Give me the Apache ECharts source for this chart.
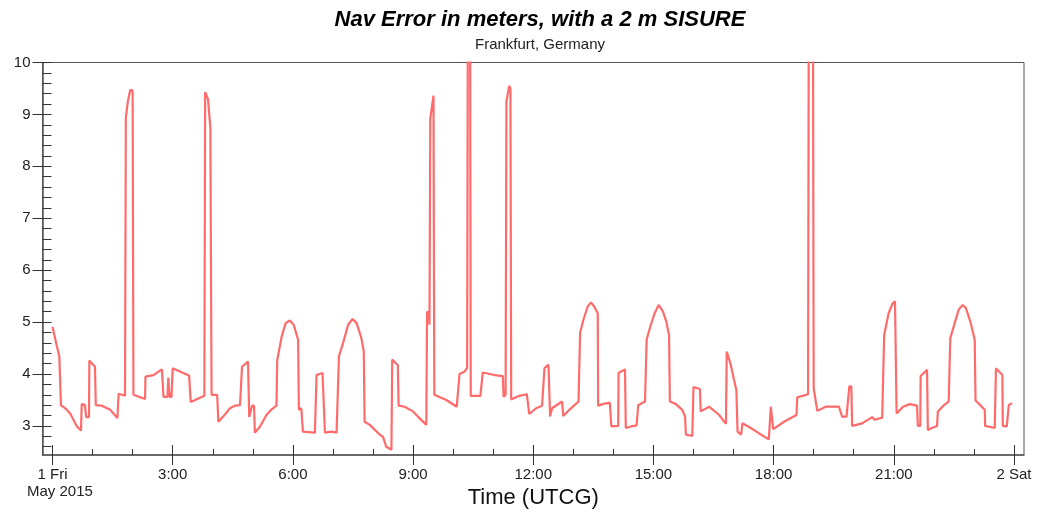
<!DOCTYPE html>
<html>
<head>
<meta charset="utf-8">
<script src="https://cdn.jsdelivr.net/npm/echarts@6/dist/echarts.min.js"></script>
<style>
  html, body { margin: 0; padding: 0; background: #fff; }
  #nav { width: 1038px; height: 515px; }
</style>
</head>
<body>
<div id="nav"></div>
<script>
// hours since 1 May 2015 00:00 UTCG
const hours = [
  0.00, 0.11, 0.17, 0.21, 0.32, 0.44, 0.61, 0.71, 0.73, 0.81, 0.84, 0.91, 0.92, 1.06, 1.08, 1.23, 1.44, 1.62, 1.65, 1.81,
  1.83, 1.88, 1.94, 1.99, 2.00, 2.02, 2.31, 2.32, 2.52, 2.73, 2.77, 2.87, 2.89, 2.92, 2.97, 3.00, 3.26, 3.41, 3.45, 3.79,
  3.81, 3.88, 3.94, 3.97, 4.11, 4.14, 4.26, 4.43, 4.55, 4.68, 4.73, 4.88, 4.91, 4.95, 4.98, 5.03, 5.05, 5.18, 5.34, 5.47,
  5.59, 5.61, 5.72, 5.82, 5.92, 6.02, 6.13, 6.15, 6.21, 6.25, 6.55, 6.59, 6.74, 6.80, 6.96, 7.09, 7.15, 7.25, 7.38, 7.49,
  7.59, 7.71, 7.77, 7.79, 7.92, 8.17, 8.25, 8.33, 8.46, 8.48, 8.62, 8.64, 8.79, 9.00, 9.16, 9.33, 9.35, 9.40, 9.41, 9.43,
  9.51, 9.53, 9.83, 10.09, 10.16, 10.29, 10.35, 10.37, 10.42, 10.44, 10.68, 10.74, 11.03, 11.24, 11.26, 11.31, 11.33, 11.40, 11.43, 11.45,
  11.65, 11.84, 11.90, 12.07, 12.22, 12.28, 12.38, 12.42, 12.47, 12.72, 12.75, 12.90, 13.03, 13.13, 13.17, 13.25, 13.36, 13.44, 13.52, 13.61,
  13.62, 13.73, 13.91, 13.95, 14.12, 14.13, 14.29, 14.31, 14.44, 14.58, 14.62, 14.79, 14.83, 14.92, 15.03, 15.13, 15.24, 15.32, 15.39, 15.41,
  15.56, 15.72, 15.79, 15.81, 15.97, 16.00, 16.16, 16.18, 16.39, 16.64, 16.81, 16.83, 16.93, 17.01, 17.07, 17.10, 17.19, 17.22, 17.43, 17.63,
  17.88, 17.93, 17.99, 18.26, 18.57, 18.59, 18.86, 18.88, 18.98, 19.00, 19.09, 19.30, 19.63, 19.71, 19.82, 19.89, 19.94, 19.96, 20.21, 20.46,
  20.52, 20.71, 20.76, 20.87, 20.97, 21.03, 21.07, 21.23, 21.40, 21.58, 21.60, 21.66, 21.67, 21.83, 21.85, 21.95, 22.08, 22.10, 22.25, 22.37,
  22.41, 22.52, 22.62, 22.72, 22.80, 22.91, 23.02, 23.04, 23.16, 23.27, 23.28, 23.52, 23.55, 23.71, 23.72, 23.82, 23.87, 23.95
];

// nav error, meters
const navError = [
  4.91, 4.53, 4.34, 3.40, 3.34, 3.24, 2.99, 2.91, 3.42, 3.40, 3.17, 3.17, 4.26, 4.14, 3.40, 3.39, 3.31, 3.15, 3.62, 3.58,
  8.93, 9.25, 9.47, 9.47, 9.41, 3.60, 3.52, 3.95, 3.98, 4.09, 3.56, 3.56, 3.93, 3.56, 3.56, 4.11, 4.02, 3.97, 3.46, 3.58,
  9.43, 9.30, 8.75, 3.60, 3.60, 3.08, 3.18, 3.34, 3.39, 3.40, 4.14, 4.24, 3.17, 3.17, 3.39, 3.39, 2.87, 2.99, 3.21, 3.32,
  3.39, 4.27, 4.72, 4.98, 5.03, 4.95, 4.66, 3.31, 3.34, 2.89, 2.87, 3.98, 4.02, 2.87, 2.89, 2.87, 4.34, 4.59, 4.95, 5.06,
  4.98, 4.69, 4.43, 3.08, 3.02, 2.83, 2.79, 2.60, 2.54, 4.28, 4.17, 3.39, 3.37, 3.28, 3.15, 3.02, 5.20, 5.17, 4.95, 8.93,
  9.36, 3.60, 3.50, 3.37, 4.00, 4.05, 4.12, 12.0, 12.0, 3.58, 3.58, 4.03, 3.98, 3.96, 3.56, 3.60, 9.25, 9.55, 9.50, 3.51,
  3.58, 3.61, 3.23, 3.34, 3.39, 4.11, 4.18, 3.18, 3.34, 3.47, 3.19, 3.31, 3.40, 3.47, 4.80, 5.04, 5.30, 5.38, 5.30, 5.17,
  3.39, 3.42, 3.45, 2.99, 3.00, 4.02, 4.09, 2.96, 2.99, 3.01, 3.40, 3.47, 4.66, 4.91, 5.17, 5.33, 5.20, 5.01, 4.75, 3.47,
  3.42, 3.31, 3.18, 2.83, 2.81, 3.75, 3.71, 3.28, 3.37, 3.21, 3.04, 4.43, 4.18, 3.89, 3.69, 2.89, 2.83, 3.05, 2.96, 2.86,
  2.74, 3.37, 2.94, 3.08, 3.21, 3.55, 3.61, 12.0, 12.0, 3.73, 3.29, 3.37, 3.37, 3.18, 3.18, 3.76, 3.76, 3.00, 3.05, 3.17,
  3.12, 3.16, 4.75, 5.17, 5.36, 5.40, 3.24, 3.37, 3.42, 3.39, 3.00, 3.00, 3.96, 4.08, 2.92, 2.96, 3.00, 3.28, 3.40, 3.47,
  4.69, 4.98, 5.24, 5.33, 5.27, 5.01, 4.66, 3.49, 3.40, 3.31, 3.00, 2.96, 4.11, 3.98, 3.00, 2.99, 3.40, 3.44
];

const xMajorTicks = [0, 3, 6, 9, 12, 15, 18, 21, 24];
const xMinorTicks = [0, 1, 2, 3, 4, 5, 6, 7, 8, 9, 10, 11, 12, 13, 14, 15, 16, 17, 18, 19, 20, 21, 22, 23, 24];
const xTickLabels = ['1 Fri', '3:00', '6:00', '9:00', '12:00', '15:00', '18:00', '21:00', '2 Sat'];
const yMajorTicks = [3, 4, 5, 6, 7, 8, 9, 10];
const yMinorTicks = [
  2.6, 2.8, 3.0, 3.2, 3.4, 3.6, 3.8, 4.0, 4.2, 4.4, 4.6, 4.8, 5.0, 5.2, 5.4, 5.6, 5.8, 6.0, 6.2,
  6.4, 6.6, 6.8, 7.0, 7.2, 7.4, 7.6, 7.8, 8.0, 8.2, 8.4, 8.6, 8.8, 9.0, 9.2, 9.4, 9.6, 9.8, 10.0
];

const FONT = 'Liberation Sans, Arial, sans-serif';
const X_MIN = -0.25, X_MAX = 24.25;
const Y_MIN = 2.44, Y_MAX = 10;
const axisColor = '#555';

const chart = echarts.init(document.getElementById('nav'));

const points = hours.map((h, i) => [h, navError[i]]);

const option = {
  animation: false,
  title: {
    text: 'Nav Error in meters, with a 2 m SISURE',
    subtext: 'Frankfurt, Germany',
    left: 535,
    top: 4,
    textAlign: 'center',
    itemGap: 6,
    textStyle: { fontFamily: FONT, fontSize: 22, fontWeight: 'bold', fontStyle: 'italic', color: '#000' },
    subtextStyle: { fontFamily: FONT, fontSize: 15, color: '#222' }
  },
  grid: {
    left: 42.5, right: 14, top: 62.5, bottom: 60,
    show: true,
    borderColor: axisColor,
    borderWidth: 1
  },
  graphic: [{
    type: 'text',
    left: 27,
    top: 484,
    style: { text: 'May 2015', font: '15px ' + FONT, fill: '#222' }
  }],
  xAxis: [
    {
      type: 'value', min: X_MIN, max: X_MAX,
      axisLine: { onZero: false, lineStyle: { color: axisColor, width: 1.5 } },
      axisTick: { inside: true, length: 6, customValues: xMinorTicks, lineStyle: { color: '#333' } },
      axisLabel: {
        customValues: xMajorTicks,
        fontFamily: FONT, fontSize: 15, color: '#222', margin: 12,
        formatter: v => xTickLabels[xMajorTicks.indexOf(Math.round(v))]
      },
      splitLine: { show: false },
      name: 'Time (UTCG)',
      nameLocation: 'middle',
      nameGap: 31,
      nameTextStyle: { fontFamily: FONT, fontSize: 22, color: '#111' }
    },
    {
      type: 'value', min: X_MIN, max: X_MAX, position: 'bottom',
      axisLine: { show: false, onZero: false },
      axisTick: { inside: true, length: 10, customValues: xMajorTicks, lineStyle: { color: '#333' } },
      axisLabel: { show: false },
      splitLine: { show: false }
    },
    {
      type: 'value', min: X_MIN, max: X_MAX, position: 'bottom',
      axisLine: { show: false, onZero: false },
      axisTick: { inside: false, length: 10, customValues: xMajorTicks, lineStyle: { color: '#333' } },
      axisLabel: { show: false },
      splitLine: { show: false }
    }
  ],
  yAxis: [
    {
      type: 'value', min: Y_MIN, max: Y_MAX,
      axisLine: { show: true, onZero: false, lineStyle: { color: axisColor, width: 1.5 } },
      axisTick: { show: true, inside: true, length: 9, customValues: yMinorTicks, lineStyle: { color: '#333' } },
      axisLabel: { customValues: yMajorTicks, fontFamily: FONT, fontSize: 15, color: '#222', margin: 12 },
      splitLine: { show: false }
    },
    {
      type: 'value', min: Y_MIN, max: Y_MAX, position: 'left',
      axisLine: { show: false, onZero: false },
      axisTick: { show: true, inside: false, length: 10, customValues: yMajorTicks, lineStyle: { color: '#333' } },
      axisLabel: { show: false },
      splitLine: { show: false }
    }
  ],
  series: [{
    type: 'line',
    data: points,
    xAxisIndex: 0,
    yAxisIndex: 0,
    showSymbol: false,
    clip: true,
    lineStyle: { color: '#ff6b6b', width: 2.2 }
  }]
};

chart.setOption(option);
</script>
</body>
</html>
